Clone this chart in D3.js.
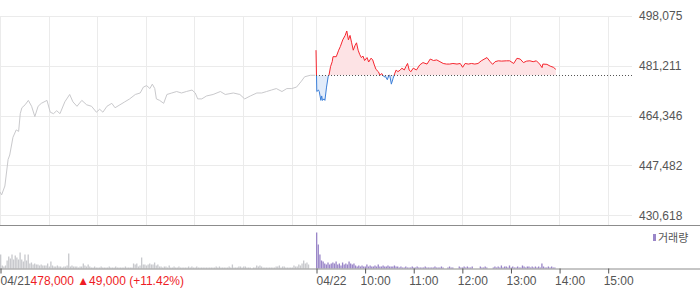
<!DOCTYPE html>
<html><head><meta charset="utf-8">
<script src="https://cdn.jsdelivr.net/npm/d3@7"></script>
<style>
html,body{margin:0;padding:0;background:#fff;}
svg{display:block;font-family:"Liberation Sans",Arial,sans-serif;}
</style></head>
<body><svg id="c" width="700" height="289"></svg>
<script>
// ---- data ----
const yTicks = [430618, 447482, 464346, 481211, 498075];
const basePrice = 478000;
const summaryText = "478,000 \u25B249,000 (+11.42%)";
const axisMinutes = [0, 390, 450, 510, 570, 630, 690, 750];
const axisLabels = ["04/21", "04/22", "10:00", "11:00", "12:00", "13:00", "14:00", "15:00"];
const gridMinutes = [0, 60, 120, 180, 240, 300, 360, 390, 450, 510, 570, 630, 690, 750];
const legendLabel = "거래량";

// day 1 (04/21): minutes after 09:00, price
const day1Minutes = [0,2,6,10,12,16,20,23,25,27,31,35,39,43,47,51,58,62,66,70,74,80,86,90,95,101,107,113,119,123,127,132,138,142,148,154,160,167,173,177,181,185,188,191,193,197,202,206,212,218,224,230,237,241,244,249,255,263,272,278,288,296,302,309,317,323,329,335,341,348,354,360,366,372,376,383,389];
const day1Prices = [438500,437500,440500,449500,451000,457000,459500,459000,465000,467000,468000,469500,467500,464000,467500,468500,469500,465500,465000,466000,465000,469000,471500,469000,467500,469500,468000,467500,465500,466500,465500,467500,468500,467000,468000,469000,470000,471500,472000,474000,474500,473500,475000,473500,470000,469500,468500,471500,472000,472500,472000,472500,473000,472000,470000,470000,471000,471500,472500,471500,472000,471500,470000,471000,472000,472000,472500,473000,473500,472500,473500,473500,474000,476000,477500,478000,478000];

// day 2 (04/22): minutes after 09:00, price
const day2Minutes = [0,1,3,4,6,7,8,10,11,13,15,16,18,20,21,25,28,30,33,36,38,40,42,44,46,48,50,52,54,56,58,60,63,65,68,70,72,74,77,79,81,84,86,88,90,91,93,95,97,99,101,104,106,109,111,113,115,117,120,124,128,132,137,141,145,149,153,157,161,165,169,174,178,181,184,188,192,196,200,204,211,215,218,221,225,229,235,239,244,248,252,256,260,264,268,272,276,279,280,285,289,293,296];
const day2Prices = [486500,472500,473000,472500,469500,471000,469500,470000,469500,474000,477500,478000,481000,482600,484300,484300,486500,487700,490000,491500,493000,490000,491500,489000,486500,488000,489000,486500,485000,484000,484500,483000,484000,482500,483800,483200,481500,480000,479200,478000,478600,477500,477500,476500,478000,478000,475000,476800,478500,479800,479200,479800,480400,479800,481000,482000,479800,479200,480400,479800,481500,482300,481800,483500,483000,483200,482600,482000,481800,481800,482000,481800,482000,480700,482000,481800,482000,481800,482000,482900,484000,482600,481700,482600,482900,482800,482900,482900,482000,483750,483500,482300,482800,482900,482600,482900,481800,480600,481800,481700,481100,480700,480000];

// volume, thousands of shares per 2-minute bar
const day1Volume = [28,6,4,6,16,24,20,28,18,26,22,18,32,18,14,28,16,28,10,12,8,10,8,8,6,8,6,6,6,10,4,14,6,4,4,6,4,4,2,4,4,6,30,4,6,4,4,4,2,4,4,10,6,4,8,4,
2,2,4,2,2,2,4,2,2,2,2,4,2,2,2,4,2,2,2,2,2,4,2,2,2,
2,10,8,10,4,6,22,8,8,6,8,10,8,8,12,6,8,4,
4,2,4,4,2,6,2,2,4,2,2,4,
2,2,2,2,2,4,2,4,2,2,4,2,
2,2,2,2,2,2,2,2,2,2,4,2,
4,2,2,2,2,2,4,2,8,2,2,2,
4,4,2,4,4,2,2,2,0,2,2,6,
4,6,4,2,2,2,2,2,2,2,2,4,
4,6,2,4,4,2,2,2,2,2,6,4,4,8,
6,10,16,10,12,8,0,0,0,0];
const day2Volume = [72,48,28,16,14,10,8,12,8,10,12,10,
14,8,10,6,12,8,10,8,14,10,8,10,6,
4,6,4,6,4,4,8,4,6,4,4,6,4,8,4,4,6,4,4,6,4,4,4,6,4,4,
2,4,2,2,4,2,2,2,4,2,2,4,
2,2,2,2,4,2,2,2,2,2,4,2,
2,2,4,2,0,0,2,4,2,2,0,0,
0,4,2,2,4,2,4,2,2,4,0,0,
0,0,4,2,2,4,2,0,0,0,2,4,
2,4,2,6,2,4,4,2,6,2,4,2,
2,4,2,2,6,4,2,4,4,2,4,2,
4,2,4,2,10,4,2,2,4,2,4,2,2];

// ---- layout ----
const svg = d3.select("#c");
const plotW = 632, priceTop = 16, priceBottom = 215.2, sepY = 225.5, volBase = 268.5;
const x = d3.scaleLinear().domain([0, 780]).range([0, plotW]);
const y = d3.scaleLinear().domain([430618, 498075]).range([priceBottom, priceTop]);
const v = d3.scaleLinear().domain([0, 84]).range([volBase, volBase - 42]);

const d1 = day1Minutes.map((m, i) => ({m: m, p: day1Prices[i]}));
const d2 = day2Minutes.map((m, i) => ({m: 390 + m, p: day2Prices[i]}));

// grid
svg.append("g").selectAll("line").data(yTicks).join("line")
  .attr("x1", 0).attr("x2", plotW)
  .attr("y1", d => Math.round(y(d)) + 0.5).attr("y2", d => Math.round(y(d)) + 0.5)
  .attr("stroke", "#ebebeb");
svg.append("g").selectAll("line").data(gridMinutes).join("line")
  .attr("x1", d => Math.round(x(d)) + 0.5).attr("x2", d => Math.round(x(d)) + 0.5)
  .attr("y1", priceTop).attr("y2", sepY)
  .attr("stroke", "#ebebeb");

// y labels
const yAxis = svg.append("g").attr("transform", `translate(${plotW},0)`)
  .call(d3.axisRight(y).tickValues(yTicks).tickSize(0).tickPadding(7).tickFormat(d3.format(",")));
yAxis.select(".domain").remove();
yAxis.selectAll("text").attr("fill", "#555").style("font-size", "12px")
  .style("font-family", '"Liberation Sans",Arial,sans-serif');

// day 1 line
svg.append("path").datum(d1)
  .attr("fill", "none").attr("stroke", "#c9c9cc").attr("stroke-width", 1)
  .attr("d", d3.line().x(d => x(d.m)).y(d => y(d.p)));

// day 2 area + line, split around base price
const yb = y(basePrice);
const defs = svg.append("defs");
defs.append("clipPath").attr("id", "above").append("rect")
  .attr("x", 0).attr("y", 0).attr("width", 700).attr("height", yb);
defs.append("clipPath").attr("id", "below").append("rect")
  .attr("x", 0).attr("y", yb).attr("width", 700).attr("height", 300);
const area = d3.area().x(d => x(d.m)).y0(yb).y1(d => y(d.p));
const line = d3.line().x(d => x(d.m)).y(d => y(d.p));
[["above", "#fde3e5", "#f5262f"], ["below", "#e2ecfa", "#3c7fd8"]].forEach(([id, fill, stroke]) => {
  const g = svg.append("g").attr("clip-path", `url(#${id})`);
  g.append("path").datum(d2).attr("fill", fill).attr("d", area);
  g.append("path").datum(d2).attr("fill", "none").attr("stroke", stroke).attr("stroke-width", 1).attr("d", line);
});

// base dotted line
svg.append("line")
  .attr("x1", x(390)).attr("x2", plotW)
  .attr("y1", Math.round(yb) + 0.5).attr("y2", Math.round(yb) + 0.5)
  .attr("stroke", "#555").attr("stroke-dasharray", "1,2");

// separators
svg.append("line").attr("x1", 0).attr("x2", 700).attr("y1", sepY).attr("y2", sepY).attr("stroke", "#8c8c8c");

// volume bars
const bw = x(2) - x(0);
const vol1 = day1Volume.map((val, i) => ({m: i * 2, val: val}));
const vol2 = day2Volume.map((val, i) => ({m: 390 + i * 2, val: val}));
svg.append("g").selectAll("rect").data(vol1).join("rect")
  .attr("x", d => x(d.m)).attr("width", bw - 0.3)
  .attr("y", d => v(d.val)).attr("height", d => volBase - v(d.val))
  .attr("fill", "#c8c9cd");
svg.append("g").selectAll("rect").data(vol2).join("rect")
  .attr("x", d => x(d.m)).attr("width", bw - 0.3)
  .attr("y", d => v(d.val)).attr("height", d => volBase - v(d.val))
  .attr("fill", "#9a86c8");

// bottom axis
const xAxis = svg.append("g").attr("transform", `translate(0,${volBase})`)
  .call(d3.axisBottom(x).tickValues(axisMinutes).tickSize(5).tickFormat((d, i) => axisLabels[i]));
xAxis.select(".domain").attr("d", "M0,0.5H700").attr("stroke", "#8c8c8c");
xAxis.selectAll(".tick line").attr("stroke", "#555").attr("transform", "translate(0.5,0)");
xAxis.selectAll(".tick text")
  .attr("fill", "#555").style("font-size", "12px")
  .style("font-family", '"Liberation Sans",Arial,sans-serif')
  .attr("text-anchor", "start")
  .attr("y", 12).attr("dy", "0.4em")
  .attr("x", (d, i) => axisLabels[i].indexOf("/") >= 0 ? 0 : -4.5);
// summary after first date
const firstLabel = xAxis.selectAll(".tick text").filter((d, i) => i === 0);
firstLabel.append("tspan").attr("fill", "#ee1c25").text(summaryText);

// legend
svg.append("rect").attr("x", 653).attr("y", 234).attr("width", 3).attr("height", 7).attr("fill", "#9a86c8");
svg.append("text").attr("x", 658).attr("y", 238).attr("dy", "0.35em")
  .attr("fill", "#555").style("font-size", "11px")
  .style("font-family", '"Noto Sans CJK KR",sans-serif')
  .text(legendLabel);
</script></body></html>
